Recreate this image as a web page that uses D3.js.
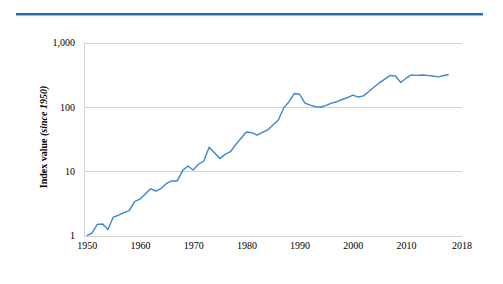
<!DOCTYPE html>
<html>
<head>
<meta charset="utf-8">
<script src="https://cdn.jsdelivr.net/npm/d3@7"></script>
<style>
  html, body { margin: 0; padding: 0; background: #fff; }
  svg { display: block; }
  .tick text { font-family: "Liberation Serif", "Times New Roman", serif; }
</style>
</head>
<body>
<svg id="chart" width="503" height="284"></svg>
<script>
// index values (1950 = 1)
const years = d3.range(1950, 2019);
const indexValues = [
  1.0, 1.1, 1.5, 1.52, 1.25, 1.95, 2.08, 2.28, 2.45, 3.38,
  3.7, 4.45, 5.35, 4.95, 5.45, 6.5, 7.1, 7.1, 10.2, 12.1,
  10.5, 12.9, 14.5, 23.7, 19.5, 15.8, 18.4, 20.2, 26, 32.7,
  41, 40, 36.5, 40.5, 44, 52.7, 63, 96, 121, 162,
  158, 115, 107, 101, 100, 106, 115, 121, 131, 140,
  153, 143, 149, 174, 205, 238, 271, 310, 303, 240,
  281, 315, 311, 314, 311, 304, 294, 307, 320
];
const yTicks = [1, 10, 100, 1000];
const xTicks = [1950, 1960, 1970, 1980, 1990, 2000, 2010, 2020.4];
const xTickLabels = ['1950', '1960', '1970', '1980', '1990', '2000', '2010', '2018'];

(function(){
const svg = d3.select('#chart');
const pL = 84, pR = 462, pT = 42.7, pB = 235.7;

// header rule
svg.append('rect').attr('x', 16).attr('y', 13).attr('width', 467).attr('height', 2.6).attr('fill', '#2a68ab');
svg.append('rect').attr('x', 16).attr('y', 15.3).attr('width', 467).attr('height', 0.8).attr('fill', '#a9c6e4');

const x = d3.scaleLinear().domain([1949.5, 2020.5]).range([pL, pR]);
const y = d3.scaleLog().domain([1, 1000]).range([pB, pT]);

// gridlines
svg.append('g').selectAll('line').data(yTicks).join('line')
  .attr('x1', pL).attr('x2', pR)
  .attr('y1', d => Math.round(y(d)) + 0.5).attr('y2', d => Math.round(y(d)) + 0.5)
  .attr('stroke', '#d4d4d4').attr('stroke-width', 1);
svg.append('line').attr('x1', pL + 0.5).attr('x2', pL + 0.5)
  .attr('y1', pT).attr('y2', pB + 0.5)
  .attr('stroke', '#d4d4d4');

// y axis labels
const yAxis = svg.append('g').attr('transform', `translate(${pL},0)`)
  .call(d3.axisLeft(y).tickValues(yTicks).tickFormat(d3.format(',')).tickSize(0).tickPadding(9));
yAxis.select('.domain').remove();
yAxis.selectAll('text').attr('font-size', 10).attr('fill', '#000');

// x axis labels
const xAxis = svg.append('g').attr('transform', `translate(0,${pB})`)
  .call(d3.axisBottom(x).tickValues(xTicks).tickFormat((d, i) => xTickLabels[i]).tickSize(0).tickPadding(6));
xAxis.select('.domain').remove();
xAxis.selectAll('text').attr('font-size', 10).attr('fill', '#000');

// series
const line = d3.line().x((d, i) => x(years[i])).y(d => y(d));
svg.append('path').datum(indexValues)
  .attr('d', line)
  .attr('fill', 'none')
  .attr('stroke', '#3b86d1')
  .attr('stroke-width', 1.4)
  .attr('stroke-linejoin', 'round');

// y title
const title = svg.append('text')
  .attr('transform', 'translate(47,137) rotate(-90)')
  .attr('text-anchor', 'middle')
  .attr('font-family', '"Liberation Serif", "Times New Roman", serif')
  .attr('font-size', 10)
  .attr('font-weight', 'bold');
title.append('tspan').text('Index value ');
title.append('tspan').attr('font-style', 'italic').text('(since 1950)');
})();
</script>
</body>
</html>
